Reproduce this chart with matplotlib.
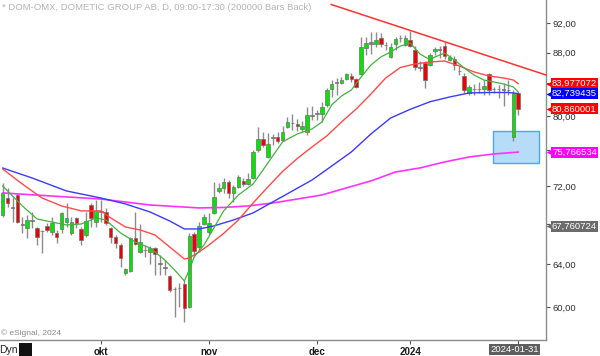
import matplotlib
matplotlib.use('Agg')
import matplotlib.pyplot as plt
import matplotlib.transforms as mtransforms
from matplotlib.patches import Rectangle
from matplotlib.ticker import NullLocator, FuncFormatter
import numpy as np

plt.rcParams['font.family'] = ['Liberation Sans', 'DejaVu Sans']

# ---------------- data (daily bars, 2023-09-04 .. 2024-01-31) ----------------
opens = [68.93, 70.71, 69.80, 71.03, 67.95, 67.59, 68.35, 67.59, 67.30, 67.80,
         67.19, 67.09, 67.49, 68.20, 67.09, 68.62, 67.49, 66.89, 69.97, 68.20,
         69.20, 69.24, 67.59, 66.68, 65.88, 63.17, 63.36, 66.58, 65.20, 65.35,
         65.20, 65.59, 64.10, 63.75, 62.89, 61.70, 61.80, 62.14, 60.02, 66.99,
         65.69, 68.00, 67.19, 69.14, 71.46, 71.78, 72.43, 71.25, 71.89, 72.54,
         72.21, 72.87, 76.01, 77.28, 75.21, 77.35, 77.51, 77.16, 78.68, 79.10,
         79.03, 78.45, 78.09, 80.15, 80.20, 80.23, 81.33, 83.30, 84.19, 84.07,
         84.57, 84.96, 84.57, 85.21, 88.61, 89.20, 89.13, 89.95, 89.05, 87.41,
         89.13, 89.90, 89.04, 89.72, 88.38, 86.10, 86.63, 86.41, 88.17, 88.42,
         88.85, 87.06, 87.19, 85.65, 84.91, 82.81, 83.25, 83.35, 83.30, 85.21,
         83.25, 83.35, 83.25, 83.15, 77.51, 82.81]
highs = [72.30, 71.78, 70.82, 71.25, 68.72, 68.93, 69.24, 67.69, 67.39, 68.10,
         68.72, 67.39, 69.24, 70.18, 68.72, 68.72, 67.69, 69.24, 70.18, 70.50,
         70.50, 69.66, 67.69, 66.89, 66.08, 63.65, 66.68, 69.24, 68.00, 65.88,
         65.78, 65.69, 64.90, 64.42, 62.98, 61.86, 62.23, 62.51, 67.09, 67.19,
         68.20, 69.03, 69.14, 72.43, 72.32, 72.87, 72.65, 72.11, 73.20, 72.87,
         73.42, 76.01, 78.68, 78.09, 77.97, 77.86, 78.09, 78.80, 79.87, 80.23,
         79.63, 79.39, 81.08, 81.20, 80.70, 81.69, 83.43, 84.44, 84.70, 84.83,
         85.34, 85.34, 84.70, 90.08, 90.08, 90.77, 90.77, 90.64, 89.41, 89.27,
         90.08, 90.36, 90.36, 90.90, 88.83, 86.85, 86.85, 87.94, 88.70, 88.83,
         89.41, 87.71, 87.50, 86.20, 85.29, 83.81, 83.94, 84.19, 84.44, 85.37,
         83.56, 83.81, 84.07, 84.44, 83.18, 82.93]
lows = [68.72, 69.76, 68.20, 68.10, 67.09, 66.58, 67.59, 65.88, 65.10, 67.19,
        66.89, 66.08, 67.09, 67.69, 66.89, 67.59, 65.88, 66.68, 67.69, 67.69,
        68.20, 67.90, 66.08, 65.59, 63.75, 62.98, 63.27, 65.88, 65.10, 64.71,
        64.04, 62.98, 62.98, 62.98, 61.40, 59.12, 60.02, 58.68, 59.93, 64.71,
        65.20, 67.90, 66.99, 69.03, 71.25, 71.25, 70.71, 70.29, 71.78, 72.00,
        72.11, 72.76, 75.78, 76.35, 75.10, 76.58, 76.81, 77.04, 78.56, 78.33,
        78.21, 78.09, 77.74, 79.51, 79.50, 79.27, 81.08, 82.31, 82.55, 83.94,
        84.44, 84.19, 83.43, 85.08, 87.67, 87.80, 88.74, 88.74, 88.34, 87.28,
        88.34, 89.41, 88.87, 88.70, 85.76, 85.55, 83.43, 86.20, 87.71, 87.28,
        87.19, 86.85, 85.76, 85.11, 82.81, 82.56, 82.56, 82.81, 82.56, 82.56,
        82.81, 82.19, 81.20, 82.56, 77.04, 80.11]
closes = [71.25, 70.18, 69.70, 68.20, 67.85, 68.41, 68.45, 66.68, 67.25, 67.39,
          68.10, 66.68, 69.14, 68.62, 68.20, 68.10, 66.38, 68.31, 68.62, 69.35,
          69.30, 68.10, 66.68, 66.08, 64.61, 63.56, 66.58, 65.98, 66.18, 65.42,
          65.59, 65.00, 64.00, 63.65, 61.58, 61.64, 61.74, 59.93, 66.78, 65.30,
          67.80, 68.72, 68.10, 70.82, 71.78, 72.43, 71.25, 71.89, 72.98, 72.21,
          72.76, 75.78, 77.28, 76.58, 76.70, 77.45, 77.04, 78.09, 79.27, 79.20,
          78.80, 78.80, 80.11, 80.05, 80.30, 81.08, 83.18, 83.94, 84.07, 84.44,
          85.21, 84.57, 83.56, 88.80, 89.27, 89.35, 89.68, 89.13, 88.95, 88.74,
          89.82, 90.00, 89.95, 88.83, 86.07, 86.02, 84.48, 87.72, 88.52, 88.36,
          87.50, 87.37, 86.33, 85.60, 83.22, 83.56, 83.35, 83.25, 83.68, 83.18,
          83.35, 83.25, 83.15, 83.20, 82.81, 80.86]

# moving averages (bar index, value)
ma_green_idx = [0, 4, 7, 10, 13, 16, 19, 21, 24, 27, 30, 33, 35, 37, 38, 39, 41, 43, 45,
                48, 51, 54, 57, 60, 63, 65, 67, 69, 71, 73, 75, 77, 79, 81, 83, 85, 87,
                88, 90, 92, 94, 96, 98, 100, 102, 104, 105]
ma_green_val = [72.00, 69.87, 68.51, 68.20, 67.90, 68.00, 68.62, 68.41, 67.09, 66.18,
                65.59, 64.42, 63.46, 62.42, 63.46, 64.71, 65.88, 67.59, 69.35, 71.03,
                72.21, 74.53, 76.93, 77.86, 78.45, 79.27, 81.33, 82.43, 83.18, 84.83,
                86.37, 87.41, 88.08, 88.87, 89.27, 87.80, 87.06, 87.41, 87.94, 87.02,
                85.98, 85.08, 84.44, 84.19, 83.94, 83.56, 82.93]
ma_red_idx = [0, 4, 8, 12, 16, 20, 22, 25, 28, 31, 34, 37, 38, 40, 42, 45, 48, 51, 54,
              57, 60, 63, 66, 69, 72, 75, 78, 81, 84, 87, 90, 93, 96, 99, 102, 104, 105]
ma_red_val = [73.86, 72.21, 70.71, 69.87, 69.35, 69.35, 68.62, 67.69, 67.39, 66.89,
              65.69, 64.51, 64.61, 65.20, 65.88, 67.04, 68.41, 70.18, 71.89, 73.59,
              75.04, 76.35, 77.63, 79.27, 80.84, 82.68, 84.70, 86.05, 86.50, 86.76,
              86.89, 86.24, 85.47, 84.96, 84.70, 84.44, 83.977072]
ma_blue_idx = [0, 6, 13, 20, 25, 30, 34, 37, 40, 43, 47, 51, 55, 59, 63, 67, 71, 75, 79,
               83, 87, 91, 95, 99, 103, 105]
ma_blue_val = [73.97, 72.87, 71.46, 70.71, 70.08, 69.24, 68.31, 67.49, 67.49, 67.80,
               68.41, 69.14, 70.29, 71.46, 72.65, 74.19, 75.78, 77.86, 79.75, 80.80,
               81.72, 82.31, 82.81, 82.87, 82.87, 82.739435]
ma_mag_idx = [0, 10, 20, 30, 40, 45, 50, 55, 60, 65, 70, 75, 80, 85, 90, 95, 100, 105]
ma_mag_val = [71.25, 70.92, 70.60, 69.97, 69.66, 69.71, 69.87, 70.18, 70.60, 71.03,
              71.79, 72.55, 73.53, 73.98, 74.65, 75.21, 75.55, 75.766534]

trend_idx = [66.9, 110.65]
trend_val = [94.60, 85.08]
zone_idx = [99.9, 109.2]
zone_val = [74.57, 78.25]

last_values = [83.977072, 82.739435, 80.860001, 75.766534, 67.760724]
last_colors = ['#ff0000', '#0000ff', '#ff0000', '#ff00ff', '#6b6b6b']

month_ticks = [20, 42, 64, 83]
month_labels = ['okt', 'nov', 'dec', '2024']
last_date_idx = 105
last_date_label = '2024-01-31'
price_ticks = [60, 64, 68, 72, 76, 80, 84, 88, 92]
hidden_price_labels = [68, 76, 84]   # covered by the value tags in the original

# ---------------- figure ----------------
W, H = 600, 356
fig = plt.figure(figsize=(W / 100, H / 100), dpi=100)
ax = fig.add_axes([0, 16 / H, 546 / W, 340 / H])
ax.set_yscale('log')
ax.set_xlim(-0.55, 110.65)
ax.set_ylim(57.11, 95.24)

o = np.array(opens); h = np.array(highs); l = np.array(lows); c = np.array(closes)
x = np.arange(len(c))
doji = np.abs(np.log(c / o)) < 0.0025
body_col = np.where(doji, '#808080', np.where(c >= o, '#00e400', '#ee0000'))

# zone rectangle
ax.add_patch(Rectangle((zone_idx[0], zone_val[0]), zone_idx[1] - zone_idx[0],
                       zone_val[1] - zone_val[0], facecolor='#b6dcf8',
                       edgecolor='#4aa6f2', lw=1.0, zorder=1))

# candles
ax.vlines(x, l, h, color='#8c8c8c', lw=1.0, zorder=3)
ax.bar(x, np.abs(c - o), bottom=np.minimum(o, c), width=0.72, color=body_col,
       edgecolor='#707070', linewidth=0.5, zorder=4)

# moving averages
ax.plot(ma_mag_idx, ma_mag_val, color='#ff33ff', lw=1.2, zorder=5)
ax.plot(ma_blue_idx, ma_blue_val, color='#3a3aff', lw=1.0, zorder=5)
ax.plot(ma_red_idx, ma_red_val, color='#ff4a4a', lw=1.0, zorder=5)
ax.plot(ma_green_idx, ma_green_val, color='#45b045', lw=0.9, zorder=5)

# trendline
ax.plot(trend_idx, trend_val, color='#ff3030', lw=1.1, zorder=5, clip_on=False)

# axes styling
for s in ['top', 'left']:
    ax.spines[s].set_visible(False)
for s in ['right', 'bottom']:
    ax.spines[s].set_color('#8c8c8c')
    ax.spines[s].set_linewidth(1.0)

ax.yaxis.tick_right()
ax.set_yticks(price_ticks)
ax.yaxis.set_minor_locator(NullLocator())
ax.yaxis.set_major_formatter(FuncFormatter(
    lambda v, p: '' if round(v) in hidden_price_labels else f"{v:.2f}".replace('.', ',')))
ax.tick_params(axis='y', which='major', length=3, width=0.8, color='#555555',
               direction='out', pad=1.5, labelsize=6.8, labelcolor='#303030')

ax.set_xticks(month_ticks + [last_date_idx])
ax.set_xticklabels(month_labels + [''])
ax.tick_params(axis='x', length=3, width=0.8, color='#555555', direction='out',
               pad=2, labelsize=7, labelcolor='#1a1a1a')
for t in ax.get_xticklabels():
    t.set_fontweight('bold')

# price tags on the right
blend = mtransforms.blended_transform_factory(ax.transAxes, ax.transData)
tri = mtransforms.offset_copy(blend, fig=fig, x=2.5, y=0, units='dots')
for v, col in zip(last_values, last_colors):
    txt = f"{v:.6f}".replace('.', ',')
    ax.plot([1], [v], marker='<', ms=5, color=col, transform=tri,
            clip_on=False, zorder=7, mec='none')
    ax.annotate(txt, xy=(1, v), xycoords=blend, xytext=(6, 0),
                textcoords='offset pixels', ha='left', va='center',
                fontsize=6.8, color='white', annotation_clip=False, zorder=8,
                bbox=dict(boxstyle='square,pad=0.1', fc=col, ec='none'))

# last date tag
ax.annotate(last_date_label, xy=(last_date_idx, 0),
            xycoords=('data', 'axes fraction'), xytext=(-4, -9.5),
            textcoords='offset pixels', ha='center', va='center', fontsize=6.8,
            color='white', annotation_clip=False, zorder=8,
            bbox=dict(boxstyle='square,pad=0.12', fc='#5e5e5e', ec='none'))

# texts
fig.text(2 / W, 1 - 7 / H,
         '* DOM-OMX, DOMETIC GROUP AB, D, 09:00-17:30 (200000 Bars Back)',
         fontsize=6.8, color='#b4b4b4', ha='left', va='center')
fig.text(1 / W, 1 - 333 / H, '\u00a9 eSignal, 2024', fontsize=6, color='#8a8a8a',
         ha='left', va='center')
fig.text(-1 / W, 1 - 350 / H, 'Dyn', fontsize=7.5, color='#222222',
         ha='left', va='center')
fig.add_artist(Rectangle((19 / W, 0), 13 / W, 13 / H, transform=fig.transFigure,
                         facecolor='#111111', edgecolor='none'))

fig.savefig('out.png', dpi=100, facecolor='white')
